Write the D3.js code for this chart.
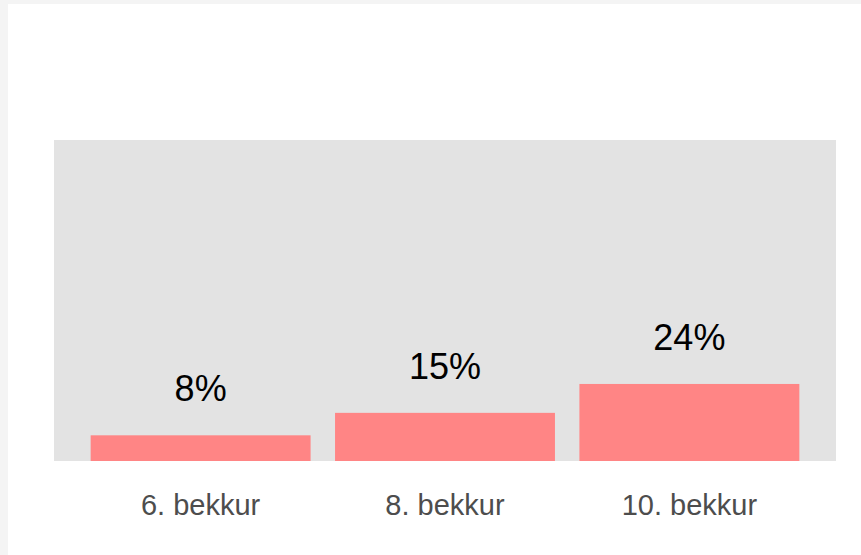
<!DOCTYPE html>
<html><head><meta charset="utf-8">
<script src="https://cdn.jsdelivr.net/npm/d3@7"></script>
<style>html,body{margin:0;padding:0;background:#f4f4f4;}svg{display:block;font-family:"Liberation Sans",Arial,sans-serif;}</style>
</head><body>
<script>
const categories = ["6. bekkur", "8. bekkur", "10. bekkur"];
const values = [8, 15, 24];
const labels = ["8%", "15%", "24%"];

const W = 861, H = 555;
const svg = d3.select("body").append("svg").attr("width", W).attr("height", H);
svg.append("rect").attr("x", 0).attr("y", 0).attr("width", W).attr("height", H).attr("fill", "#f4f4f4");
svg.append("rect").attr("x", 8).attr("y", 4).attr("width", W - 8).attr("height", H - 4).attr("fill", "#ffffff");

const panel = {x0: 54, x1: 836, y0: 140, y1: 461};
svg.append("rect").attr("x", panel.x0).attr("y", panel.y0)
  .attr("width", panel.x1 - panel.x0).attr("height", panel.y1 - panel.y0).attr("fill", "#e3e3e3");

const x = d3.scaleBand().domain(categories)
  .range([panel.x0, panel.x1]).paddingInner(0.1).paddingOuter(0.15);
const y = d3.scaleLinear().domain([0, 100]).range([panel.y1, panel.y0]);

svg.append("g").selectAll("rect").data(values).join("rect")
  .attr("x", (d, i) => x(categories[i]))
  .attr("y", d => y(d))
  .attr("width", x.bandwidth())
  .attr("height", d => y(0) - y(d))
  .attr("fill", "#ff8585");

svg.append("g").selectAll("text").data(values).join("text")
  .attr("x", (d, i) => x(categories[i]) + x.bandwidth() / 2)
  .attr("y", d => y(d) - 34)
  .attr("text-anchor", "middle")
  .attr("font-size", 36)
  .attr("fill", "#000")
  .text((d, i) => labels[i]);

const xAxis = d3.axisBottom(x).tickSize(0).tickPadding(0);
const gx = svg.append("g").attr("transform", `translate(0,${panel.y1})`).call(xAxis);
gx.select(".domain").remove();
gx.selectAll("text").attr("font-size", 29).attr("fill", "#4d4d4d")
  .attr("font-family", "'Liberation Sans', Arial, sans-serif")
  .attr("dy", null).attr("y", 54);
</script>
</body></html>
